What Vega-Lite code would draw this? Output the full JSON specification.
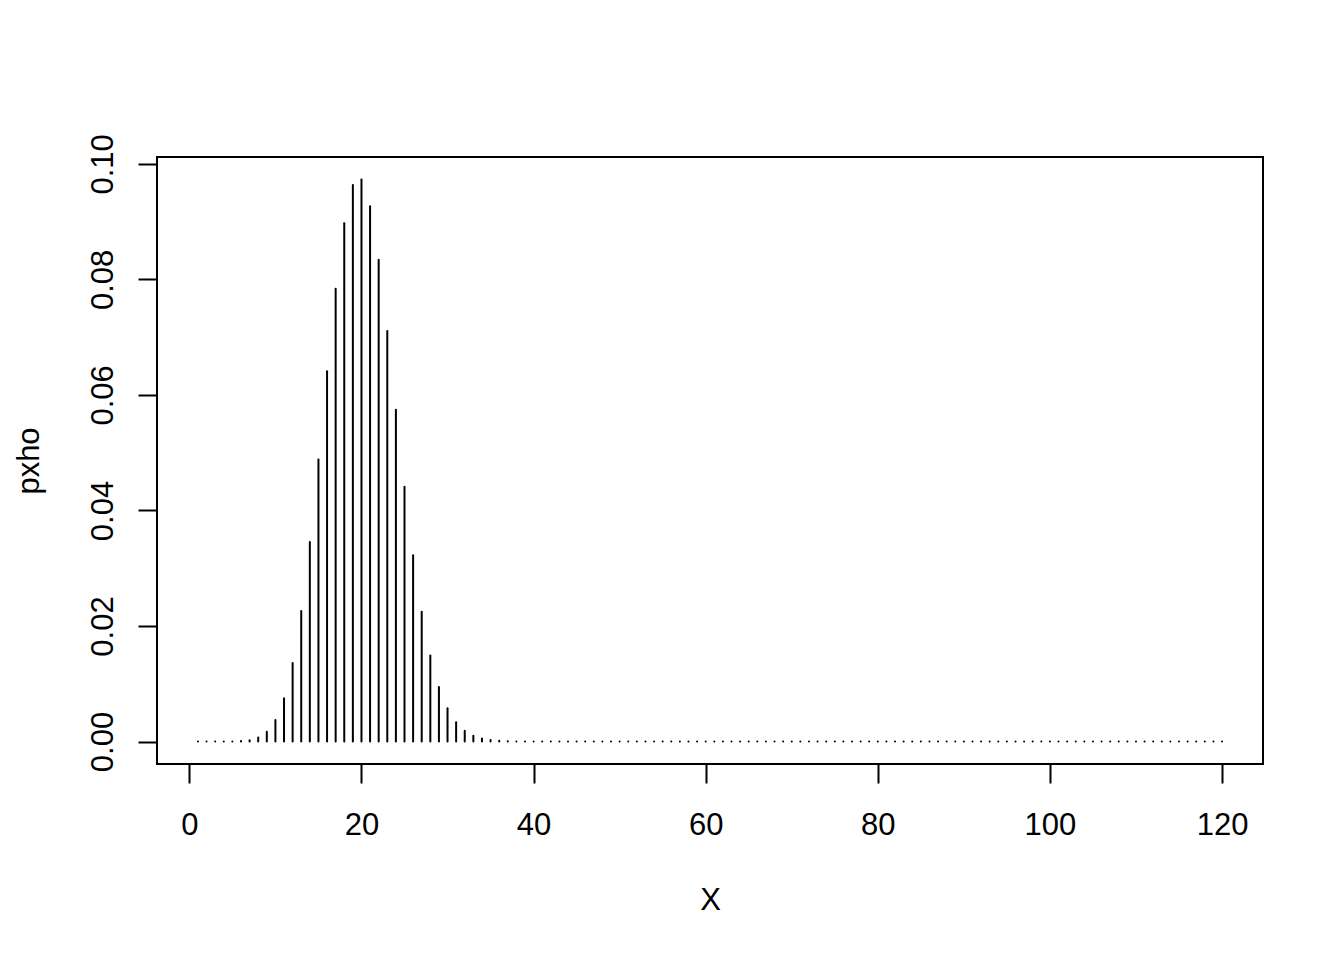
{
  "$schema": "https://vega.github.io/schema/vega-lite/v6.json",
  "width": 1106,
  "height": 607,
  "autosize": {"type": "none"},
  "padding": {"left": 157, "top": 157, "right": 81, "bottom": 196},
  "background": "white",
  "config": {
    "view": {"stroke": "black", "strokeWidth": 2},
    "font": "Liberation Sans",
    "axis": {
      "grid": false,
      "domain": false,
      "tickColor": "black",
      "tickWidth": 2,
      "tickSize": 19,
      "labelColor": "black",
      "labelFont": "Liberation Sans",
      "labelFontSize": 31,
      "titleFont": "Liberation Sans",
      "titleFontSize": 31,
      "titleFontWeight": "normal",
      "titleColor": "black"
    }
  },
  "data": {
    "values": [
      {"x": 1, "p": 0}, {"x": 2, "p": 0.0000001}, {"x": 3, "p": 0.0000007}, {"x": 4, "p": 0.0000041},
      {"x": 5, "p": 0.0000192}, {"x": 6, "p": 0.0000736}, {"x": 7, "p": 0.00024}, {"x": 8, "p": 0.000677},
      {"x": 9, "p": 0.001686}, {"x": 10, "p": 0.003743}, {"x": 11, "p": 0.007487}, {"x": 12, "p": 0.0136},
      {"x": 13, "p": 0.0226}, {"x": 14, "p": 0.03454}, {"x": 15, "p": 0.04882}, {"x": 16, "p": 0.06408},
      {"x": 17, "p": 0.0784}, {"x": 18, "p": 0.08973}, {"x": 19, "p": 0.09634}, {"x": 20, "p": 0.0973},
      {"x": 21, "p": 0.09267}, {"x": 22, "p": 0.0834}, {"x": 23, "p": 0.07107}, {"x": 24, "p": 0.05745},
      {"x": 25, "p": 0.04412}, {"x": 26, "p": 0.03224}, {"x": 27, "p": 0.02245}, {"x": 28, "p": 0.01491},
      {"x": 29, "p": 0.00946}, {"x": 30, "p": 0.00574}, {"x": 31, "p": 0.003333}, {"x": 32, "p": 0.001854},
      {"x": 33, "p": 0.000989}, {"x": 34, "p": 0.000506}, {"x": 35, "p": 0.000249}, {"x": 36, "p": 0.000117},
      {"x": 37, "p": 0.0000533}, {"x": 38, "p": 0.0000233}, {"x": 39, "p": 0.0000098}, {"x": 40, "p": 0.000004},
      {"x": 41, "p": 0.0000015}, {"x": 42, "p": 0.0000006}, {"x": 43, "p": 0}, {"x": 44, "p": 0},
      {"x": 45, "p": 0}, {"x": 46, "p": 0}, {"x": 47, "p": 0}, {"x": 48, "p": 0},
      {"x": 49, "p": 0}, {"x": 50, "p": 0}, {"x": 51, "p": 0}, {"x": 52, "p": 0},
      {"x": 53, "p": 0}, {"x": 54, "p": 0}, {"x": 55, "p": 0}, {"x": 56, "p": 0},
      {"x": 57, "p": 0}, {"x": 58, "p": 0}, {"x": 59, "p": 0}, {"x": 60, "p": 0},
      {"x": 61, "p": 0}, {"x": 62, "p": 0}, {"x": 63, "p": 0}, {"x": 64, "p": 0},
      {"x": 65, "p": 0}, {"x": 66, "p": 0}, {"x": 67, "p": 0}, {"x": 68, "p": 0},
      {"x": 69, "p": 0}, {"x": 70, "p": 0}, {"x": 71, "p": 0}, {"x": 72, "p": 0},
      {"x": 73, "p": 0}, {"x": 74, "p": 0}, {"x": 75, "p": 0}, {"x": 76, "p": 0},
      {"x": 77, "p": 0}, {"x": 78, "p": 0}, {"x": 79, "p": 0}, {"x": 80, "p": 0},
      {"x": 81, "p": 0}, {"x": 82, "p": 0}, {"x": 83, "p": 0}, {"x": 84, "p": 0},
      {"x": 85, "p": 0}, {"x": 86, "p": 0}, {"x": 87, "p": 0}, {"x": 88, "p": 0},
      {"x": 89, "p": 0}, {"x": 90, "p": 0}, {"x": 91, "p": 0}, {"x": 92, "p": 0},
      {"x": 93, "p": 0}, {"x": 94, "p": 0}, {"x": 95, "p": 0}, {"x": 96, "p": 0},
      {"x": 97, "p": 0}, {"x": 98, "p": 0}, {"x": 99, "p": 0}, {"x": 100, "p": 0},
      {"x": 101, "p": 0}, {"x": 102, "p": 0}, {"x": 103, "p": 0}, {"x": 104, "p": 0},
      {"x": 105, "p": 0}, {"x": 106, "p": 0}, {"x": 107, "p": 0}, {"x": 108, "p": 0},
      {"x": 109, "p": 0}, {"x": 110, "p": 0}, {"x": 111, "p": 0}, {"x": 112, "p": 0},
      {"x": 113, "p": 0}, {"x": 114, "p": 0}, {"x": 115, "p": 0}, {"x": 116, "p": 0},
      {"x": 117, "p": 0}, {"x": 118, "p": 0}, {"x": 119, "p": 0}, {"x": 120, "p": 0}
    ]
  },
  "mark": {"type": "rule", "color": "black", "strokeWidth": 2, "strokeCap": "round"},
  "encoding": {
    "x": {
      "field": "x",
      "type": "quantitative",
      "scale": {"domain": [-3.76, 124.76], "nice": false, "zero": false},
      "axis": {
        "values": [0, 20, 40, 60, 80, 100, 120],
        "format": "d",
        "labelPadding": 27,
        "labelAlign": "center",
        "labelBaseline": "top",
        "title": "X",
        "titleY": 145,
        "titleBaseline": "alphabetic",
        "titleAnchor": "middle"
      }
    },
    "y": {
      "field": "p",
      "type": "quantitative",
      "scale": {"domain": [-0.00389, 0.10119], "nice": false, "zero": false},
      "axis": {
        "values": [0, 0.02, 0.04, 0.06, 0.08, 0.1],
        "format": ".2f",
        "labelAngle": -90,
        "labelAlign": "center",
        "labelBaseline": "alphabetic",
        "labelPadding": 26,
        "title": "pxho",
        "titleAngle": -90,
        "titleX": -119,
        "titleBaseline": "alphabetic",
        "titleAnchor": "middle"
      }
    },
    "y2": {"datum": 0}
  }
}
